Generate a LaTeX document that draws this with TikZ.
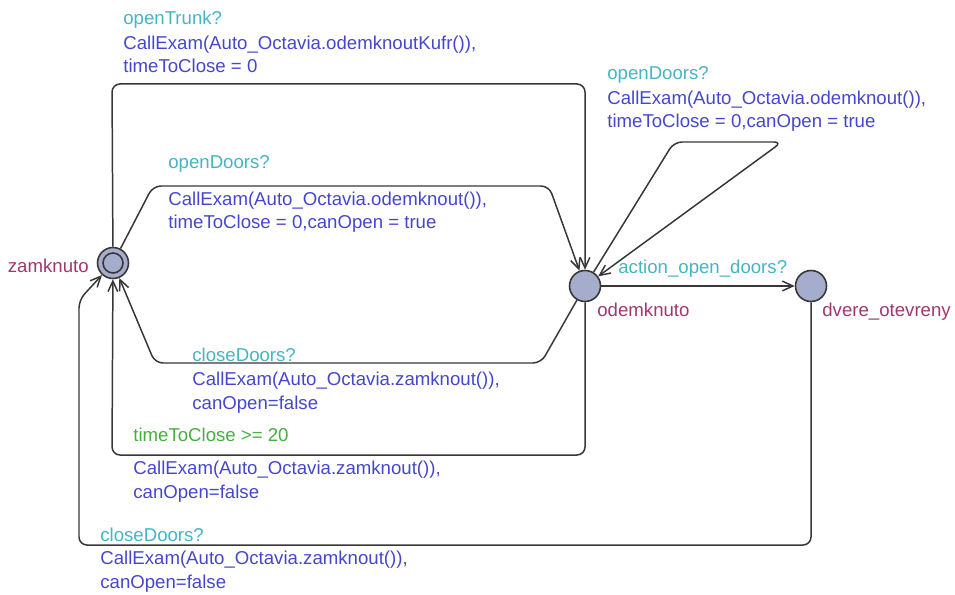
\documentclass[tikz,border=0pt]{standalone}
\usepackage{fontspec}
\setmainfont{Liberation Sans}
\usetikzlibrary{arrows.meta}

\definecolor{locfill}{RGB}{166,173,204}
\definecolor{namecol}{RGB}{160,55,110}
\definecolor{synccol}{RGB}{70,180,195}
\definecolor{updcol}{RGB}{70,70,205}
\definecolor{guardcol}{RGB}{70,175,60}
\definecolor{edgecol}{RGB}{55,55,55}

\tikzset{
    loc/.style={circle, draw=edgecol, line width=0.9pt, fill=locfill, minimum size=0.62cm, inner sep=0pt},
    trans/.style={->, draw=edgecol, line width=0.85pt, rounded corners=0.16cm},
    lbl/.style={inner sep=0pt, font=\fontsize{10.6}{13.6}\selectfont, align=left, anchor=base west},
    sync/.style={lbl, text=synccol},
    upd/.style={lbl, text=updcol},
    guard/.style={lbl, text=guardcol},
    locnm/.style={lbl, text=namecol}
}

\begin{document}
\begin{tikzpicture}[x=0.02cm, y=-0.02cm, >={Straight Barb[length=6pt, width=5.5pt]}]

    \useasboundingbox (0,0) rectangle (955,594);

    % Estados
    \node[loc] (zamknuto) at (113,263) {};
    \draw[edgecol, line width=0.9pt] (zamknuto.center) circle [radius=0.2cm];
    \node[loc] (odemknuto) at (585,286) {};
    \node[loc] (dvereOtevreny) at (811,286) {};

    \node[locnm, anchor=base east] (nZamknuto) at (89,272) {zamknuto};
    \node[locnm] (nOdemknuto) at (597,316) {odemknuto};
    \node[locnm] (nDvere) at (822,316) {dvere\_otevreny};

    % Transiciones
    \draw[trans] (zamknuto) -- (112,84) -- (585,84) -- (odemknuto);
    \draw[trans] (zamknuto) -- (153,186) -- (549,186) -- (odemknuto);
    \draw[trans] (odemknuto) -- (541,363) -- (155,363) -- (zamknuto);
    \draw[trans] (odemknuto) -- (585,455) -- (112,455) -- (zamknuto);
    \draw[trans] (odemknuto) -- (674,142) -- (782,142) -- (odemknuto);
    \draw[trans] (odemknuto) -- (dvereOtevreny);
    \draw[trans] (dvereOtevreny) -- (811,545) -- (79,545) -- (79,300) -- (zamknuto);

    % Etiquetas (la base es la de la ultima linea)
    \node[sync] (sTrunk) at (123,25) {openTrunk?};
    \node[upd] (uTrunk) at (123,73) {CallExam(Auto\_Octavia.odemknoutKufr()),\\timeToClose = 0};

    \node[sync] (sLoop) at (607,80) {openDoors?};
    \node[upd] (uLoop) at (607,128) {CallExam(Auto\_Octavia.odemknout()),\\timeToClose = 0,canOpen = true};

    \node[sync] (sOpen) at (168,169) {openDoors?};
    \node[upd] (uOpen) at (168,229) {CallExam(Auto\_Octavia.odemknout()),\\timeToClose = 0,canOpen = true};

    \node[sync] (sAction) at (618,274) {action\_open\_doors?};

    \node[sync] (sClose) at (192,361) {closeDoors?};
    \node[upd] (uClose) at (192,409) {CallExam(Auto\_Octavia.zamknout()),\\canOpen=false};

    \node[guard] (gTime) at (133,441) {timeToClose >= 20};
    \node[upd] (uTime) at (133,498) {CallExam(Auto\_Octavia.zamknout()),\\canOpen=false};

    \node[sync] (sDoors) at (100,541) {closeDoors?};
    \node[upd] (uDoors) at (100,588) {CallExam(Auto\_Octavia.zamknout()),\\canOpen=false};

\end{tikzpicture}
\end{document}
